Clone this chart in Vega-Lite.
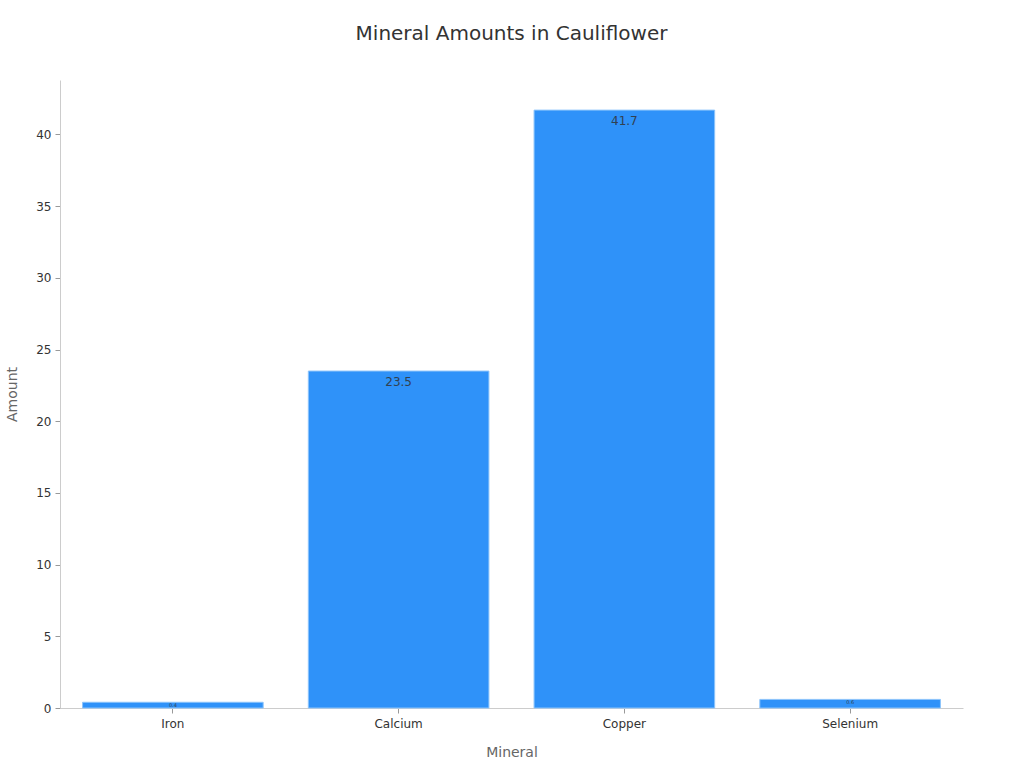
{
  "$schema": "https://vega.github.io/schema/vega-lite/v6.json",
  "width": 903,
  "height": 628,
  "autosize": {"type": "none"},
  "padding": {"left": 60, "top": 80, "right": 61, "bottom": 60},
  "background": "white",
  "config": {
    "font": "DejaVu Sans",
    "view": {"stroke": null}
  },
  "title": {
    "text": "Mineral Amounts in Cauliflower",
    "fontSize": 20,
    "fontWeight": "normal",
    "color": "#333333",
    "offset": 36,
    "anchor": "middle"
  },
  "data": {
    "values": [
      {"Mineral": "Iron", "Amount": 0.4},
      {"Mineral": "Calcium", "Amount": 23.5},
      {"Mineral": "Copper", "Amount": 41.7},
      {"Mineral": "Selenium", "Amount": 0.6}
    ]
  },
  "encoding": {
    "x": {
      "field": "Mineral",
      "type": "nominal",
      "sort": null,
      "scale": {"paddingInner": 0.2, "paddingOuter": 0.1},
      "axis": {
        "labelAngle": 0,
        "labelFontSize": 12,
        "labelColor": "#333333",
        "titleFontSize": 14,
        "titleFontWeight": "normal",
        "titleColor": "#666666",
        "titlePadding": 16,
        "domainColor": "#cccccc",
        "tickColor": "#999999",
        "tickSize": 5,
        "labelPadding": 5
      }
    },
    "y": {
      "field": "Amount",
      "type": "quantitative",
      "scale": {"domain": [0, 43.8], "nice": false},
      "axis": {
        "grid": false,
        "values": [0, 5, 10, 15, 20, 25, 30, 35, 40],
        "labelFontSize": 12,
        "labelColor": "#333333",
        "titleFontSize": 14,
        "titleFontWeight": "normal",
        "titleColor": "#666666",
        "titlePadding": 16,
        "domainColor": "#cccccc",
        "tickColor": "#999999",
        "tickSize": 5,
        "labelPadding": 4
      }
    }
  },
  "layer": [
    {
      "mark": {"type": "bar", "color": "#2f92f9", "stroke": "#8cc4fb", "strokeWidth": 1}
    },
    {
      "transform": [{"filter": "datum.Amount >= 2"}],
      "mark": {"type": "text", "baseline": "top", "dy": 6, "fontSize": 12, "color": "#333333", "opacity": 0.85},
      "encoding": {"text": {"field": "Amount", "type": "quantitative"}}
    },
    {
      "transform": [{"filter": "datum.Amount < 2"}],
      "mark": {"type": "text", "baseline": "top", "dy": 1, "fontSize": 5, "color": "#333333", "opacity": 0.85},
      "encoding": {"text": {"field": "Amount", "type": "quantitative"}}
    }
  ]
}
